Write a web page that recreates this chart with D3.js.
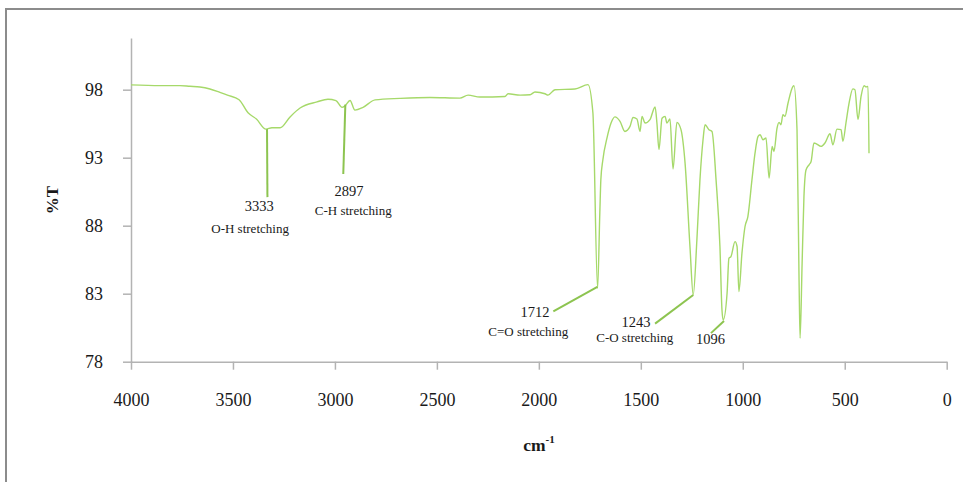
<!DOCTYPE html>
<html>
<head>
<meta charset="utf-8">
<script src="https://cdn.jsdelivr.net/npm/d3@7"></script>
<style>
    body { margin: 0; background: #fff; }
    svg { display: block; }
    .axis path, .axis line { stroke: #b3b3b3; stroke-width: 1.5; }
</style>
</head>
<body>
<svg width="963" height="482"></svg>
<script>
// spectrum (wavenumber cm-1, %T)
var wavenumber = [4000, 3858, 3760, 3711, 3662, 3613, 3564, 3527, 3470, 3426, 3385, 3338, 3309, 3269, 3220, 3171, 3088, 3034, 2995,
    2965, 2951, 2926, 2902, 2862, 2803, 2681, 2534, 2387, 2347, 2289, 2166, 2151, 2092, 2043, 2019, 1970,
    1955, 1921, 1823, 1759, 1735, 1712, 1701, 1696, 1686, 1666, 1646, 1627, 1602, 1578, 1553, 1538, 1519,
    1504, 1494, 1479, 1455, 1430, 1421, 1411, 1396, 1381, 1372, 1357, 1342, 1323, 1303, 1283, 1259, 1243,
    1225, 1210, 1195, 1185, 1166, 1151, 1131, 1112, 1102, 1096, 1077, 1068, 1058, 1038, 1028, 1019, 1004,
    989, 975, 955, 940, 925, 915, 901, 886, 871, 856, 847, 832, 822, 813, 803, 793, 778, 754, 749, 734,
    724, 719, 709, 700, 690, 675, 665, 651, 641, 616, 597, 572, 558, 538, 518, 509, 494, 480, 460, 450,
    435, 420, 405, 396, 386, 381];
var transmittance = [98.35, 98.3, 98.3, 98.25, 98.2, 98.05, 97.8, 97.6, 97.26, 96.3, 95.84, 95.1, 95.2, 95.2, 96.0, 96.65, 97.1, 97.3, 97.2,
    96.7, 96.8, 97.2, 96.5, 96.7, 97.25, 97.36, 97.43, 97.38, 97.6, 97.46, 97.5, 97.7, 97.6, 97.63, 97.83, 97.7,
    97.6, 98.0, 98.05, 98.37, 96.3, 83.4, 88.95, 91.37, 92.85, 94.44, 95.55, 96.0, 95.67, 94.93, 95.3, 95.96, 95.84,
    94.93, 96.04, 95.55, 95.8, 96.73, 95.55, 93.6, 95.9, 96.04, 95.55, 95.84, 92.17, 95.6, 95.06, 92.6, 86.47, 82.9,
    86.96, 91.37, 94.3, 95.42, 95.06, 94.93, 91.37, 86.47, 81.8, 81.07, 83.03, 85.6, 85.73, 86.83, 86.47, 83.15, 85.98,
    87.94, 88.67, 91.37, 93.33, 94.56, 94.69, 94.32, 94.45, 91.5, 93.82, 93.46, 95.18, 95.6, 95.42, 96.16, 96.04, 97.02, 98.24, 98.29, 95.06,
    84.0, 79.72, 85.24, 90.14, 92.1, 92.48, 92.72, 94.08, 94.03, 93.83, 94.08, 94.76, 93.95, 95.1, 95.06, 94.2, 95.55, 96.9, 98.06, 98.0,
    95.8, 97.5, 98.29, 98.2, 98.24, 93.33];

var xTicks = [4000, 3500, 3000, 2500, 2000, 1500, 1000, 500, 0];
var yTicks = [78, 83, 88, 93, 98];

// peak call-outs: leader from (fromW, fromT) to (toW, toT), text anchored in data units
var peakLabels = ["3333", "2897", "1712", "1243", "1096"];
var peakNotes = ["O-H stretching", "C-H stretching", "C=O stretching", "C-O stretching"];
var fromW = [3333, 2949, 1713, 1243, 1092];
var fromT = [95.1, 96.9, 83.5, 82.9, 81.0];
var toW = [3331, 2959, 1929, 1430, 1156];
var toT = [90.1, 91.8, 81.7, 80.8, 80.1];
var labelW = [3371, 2931, 2019, 1524, 1158];
var labelT = [89.1, 90.2, 81.3, 80.55, 79.3];
var noteW = [3416, 2910, 2052, 1530];
var noteT = [87.45, 88.8, 79.9, 79.45];

var serif = '"Liberation Serif", "Times New Roman", serif';
var ink = "#1a1a1a";

var svg = d3.select("svg");

// outer chart frame (runs off the right and bottom of the window)
svg.append("rect")
    .attr("x", 6).attr("y", 9)
    .attr("width", 1000).attr("height", 500)
    .attr("fill", "none")
    .attr("stroke", "#8c8c8c")
    .attr("stroke-width", 2);

var margin = {left: 131, right: 16.3, top: 38, bottom: 120.3};
var width = 963 - margin.left - margin.right,
    height = 482 - margin.top - margin.bottom;

var x = d3.scaleLinear().domain([4000, 0]).range([0, width]);
var y = d3.scaleLinear().domain([78, 101.8]).range([height, 0]);

var g = svg.append("g").attr("transform", "translate(" + margin.left + "," + margin.top + ")");

g.append("g")
    .attr("class", "axis")
    .attr("transform", "translate(0," + height + ")")
    .call(d3.axisBottom(x).tickValues(xTicks).tickFormat(d3.format("d"))
        .tickSize(8).tickPadding(23.5).tickSizeOuter(0));

g.append("g")
    .attr("class", "axis")
    .call(d3.axisLeft(y).tickValues(yTicks).tickFormat(d3.format("d"))
        .tickSize(8).tickPadding(20).tickSizeOuter(0));

g.selectAll(".axis")
    .attr("font-family", serif)
    .attr("font-size", 18);
g.selectAll(".axis text").attr("fill", ink);

var points = wavenumber.map(function(w, i) { return [w, transmittance[i]]; });

var line = d3.line()
    .x(function(d) { return x(d[0]); })
    .y(function(d) { return y(d[1]); })
    .curve(d3.curveMonotoneX);

g.append("path")
    .datum(points)
    .attr("fill", "none")
    .attr("stroke", "#a6d96a")
    .attr("stroke-width", 1.4)
    .attr("d", line);

// leaders
g.selectAll(".leader")
    .data(peakLabels)
    .enter().append("line")
    .attr("class", "leader")
    .attr("x1", function(d, i) { return x(fromW[i]); })
    .attr("y1", function(d, i) { return y(fromT[i]); })
    .attr("x2", function(d, i) { return x(toW[i]); })
    .attr("y2", function(d, i) { return y(toT[i]); })
    .attr("stroke", "#8dc450")
    .attr("stroke-width", 2);

g.selectAll(".peak")
    .data(peakLabels)
    .enter().append("text")
    .attr("class", "peak")
    .attr("x", function(d, i) { return x(labelW[i]); })
    .attr("y", function(d, i) { return y(labelT[i]); })
    .attr("text-anchor", "middle")
    .attr("font-family", serif)
    .attr("font-size", 14.5)
    .attr("fill", ink)
    .text(function(d) { return d; });

g.selectAll(".note")
    .data(peakNotes)
    .enter().append("text")
    .attr("class", "note")
    .attr("x", function(d, i) { return x(noteW[i]); })
    .attr("y", function(d, i) { return y(noteT[i]); })
    .attr("text-anchor", "middle")
    .attr("font-family", serif)
    .attr("font-size", 13)
    .attr("fill", ink)
    .text(function(d) { return d; });

// axis titles
svg.append("text")
    .attr("transform", "translate(58,200) rotate(-90)")
    .attr("text-anchor", "middle")
    .attr("font-family", serif)
    .attr("font-size", 17)
    .attr("font-weight", "bold")
    .attr("fill", ink)
    .text("%T");

var xt = svg.append("text")
    .attr("x", 539)
    .attr("y", 451)
    .attr("text-anchor", "middle")
    .attr("font-family", serif)
    .attr("font-size", 17.5)
    .attr("font-weight", "bold")
    .attr("fill", ink);
xt.append("tspan").text("cm");
xt.append("tspan").attr("dy", -8).attr("font-size", 11).text("-1");
</script>
</body>
</html>
